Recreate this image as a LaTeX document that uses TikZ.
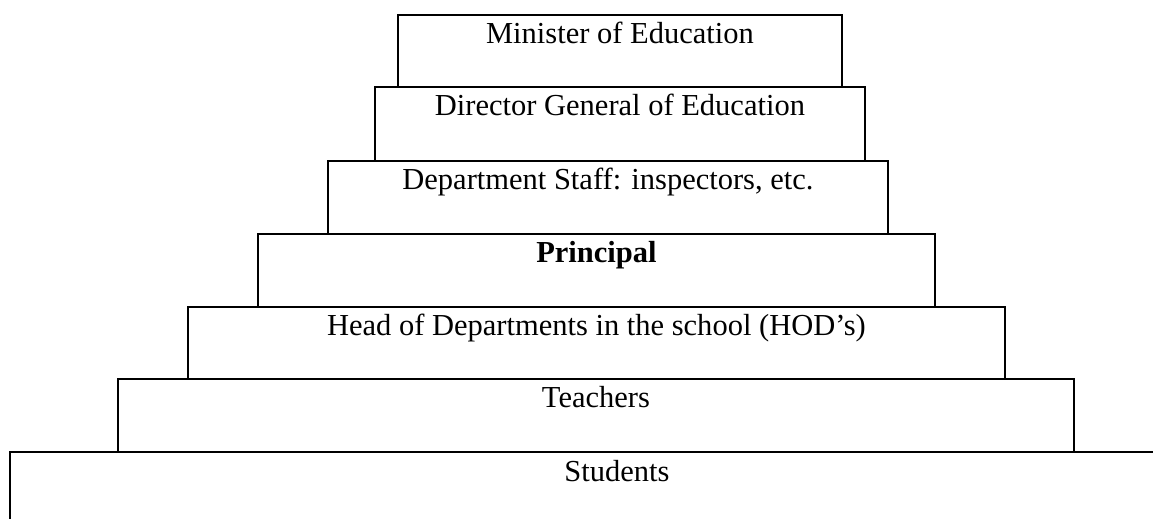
\documentclass[tikz,border=0pt]{standalone}
\usepackage{fontspec}
\setmainfont{Liberation Serif}
\begin{document}
\begin{tikzpicture}[x=0.4pt,y=-0.4pt,
  tier/.style={draw=black, line width=0.75pt, rectangle, inner sep=0pt, anchor=north west},
  label/.style={anchor=base, inner sep=0pt, font=\fontsize{12.2pt}{14pt}\selectfont}]
\useasboundingbox (0,0) rectangle (1153,519);
\clip (0,0) rectangle (1153,519);
% boxes (drawn bottom-up so upper boxes sit on lower ones)
\node[tier, minimum width=480pt, minimum height=60pt] (students) at (9,451) {};
\node[tier, minimum width=382.4pt, minimum height=29.2pt] (teachers) at (117,378) {};
\node[tier, minimum width=326.8pt, minimum height=28.8pt] (hod) at (187,306) {};
\node[tier, minimum width=270.8pt, minimum height=29.2pt] (principal) at (257,233) {};
\node[tier, minimum width=224pt, minimum height=29.2pt] (staff) at (327,160) {};
\node[tier, minimum width=196pt, minimum height=29.6pt] (director) at (374,86) {};
\node[tier, minimum width=177.6pt, minimum height=28.8pt] (minister) at (397,14) {};
% labels
\node[label] (tminister) at ([yshift=-11.8pt]minister.north) {Minister of Education};
\node[label] (tdirector) at ([yshift=-11.8pt]director.north) {Director General of Education};
\node[label] (tstaff) at ([yshift=-11.6pt]staff.north) {Department Staff: inspectors, etc.};
\node[label, font=\fontsize{12.2pt}{14pt}\selectfont\bfseries] (tprincipal) at ([yshift=-11.6pt]principal.north) {Principal};
\node[label] (thod) at ([yshift=-11.6pt]hod.north) {Head of Departments in the school (HOD’s)};
\node[label] (tteachers) at ([yshift=-11.8pt]teachers.north) {Teachers};
\node[label] (tstudents) at (617,481) {Students};
\end{tikzpicture}
\end{document}
